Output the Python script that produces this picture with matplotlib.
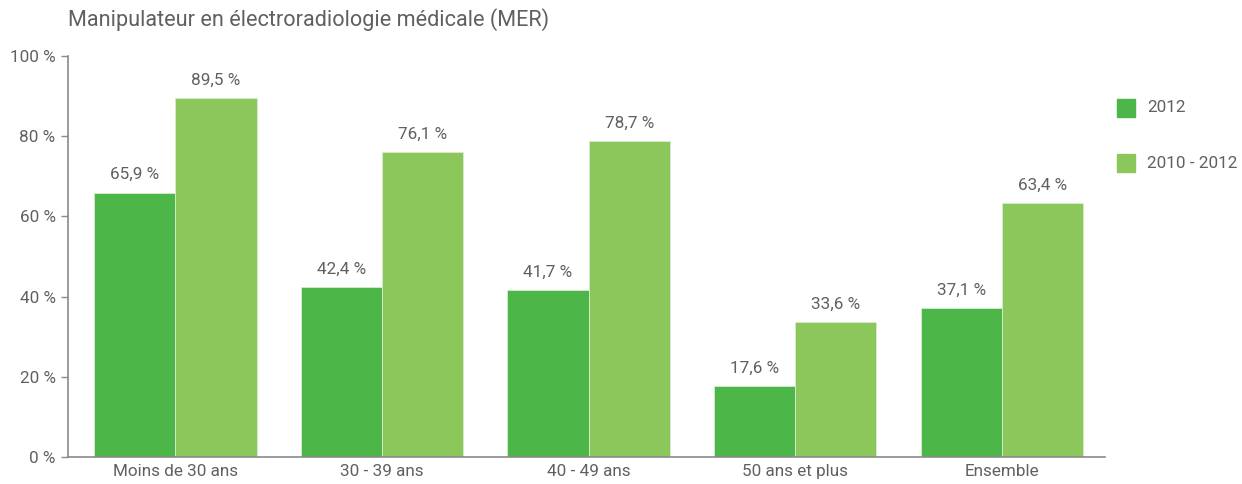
import numpy as np
from matplotlib import pyplot as plt
from matplotlib.patches import Rectangle

plt.rcParams['font.family'] = ['Roboto', 'DejaVu Sans']

categories = ['Moins de 30 ans', '30 - 39 ans', '40 - 49 ans', '50 ans et plus', 'Ensemble']
values_2012 = [65.9, 42.4, 41.7, 17.6, 37.1]
values_2010_2012 = [89.5, 76.1, 78.7, 33.6, 63.4]
series_names = ['2012', '2010 - 2012']
colors = ['#4cb748', '#8bc75b']
yticks = [0, 20, 40, 60, 80, 100]

text_color = '#606060'
axis_color = '#8a8a8a'
fs = 12.3


def fmt(v):
    return ('%.1f' % v).replace('.', ',') + ' %'


fig = plt.figure(figsize=(12.42, 4.84), dpi=100)
ax = fig.add_axes([0.0548, 0.0558, 0.8349, 0.8285])

x = np.arange(len(categories))
width = 0.393
series = [values_2012, values_2010_2012]
for k, vals in enumerate(series):
    pos = x + (k - 0.5) * width
    ax.bar(pos, vals, width=width, color=colors[k], edgecolor='#d8ecd0', linewidth=0.6)
    for p, v in zip(pos, vals):
        ax.text(p, v + 2.6, fmt(v), ha='center', va='bottom', fontsize=fs, color=text_color)

ax.set_xlim(-0.52, 4.5)
ax.set_ylim(0, 100)
ax.set_yticks(yticks)
ax.set_yticklabels(['%d %%' % t for t in yticks], fontsize=fs, color=text_color)
ax.set_xticks(x)
ax.set_xticklabels(categories, fontsize=fs, color=text_color)
ax.tick_params(axis='x', length=0, pad=5)
ax.tick_params(axis='y', length=5, width=1, color=axis_color, pad=4)

for side in ['top', 'right']:
    ax.spines[side].set_visible(False)
for side in ['left', 'bottom']:
    ax.spines[side].set_color(axis_color)
    ax.spines[side].set_linewidth(1.2)

fig.text(68 / 1242, 1 - 20 / 484, 'Manipulateur en électroradiologie médicale (MER)',
         ha='left', va='center', fontsize=15.6, color=text_color)

# legend
for k, name in enumerate(series_names):
    ycen = 108 + k * 55
    fig.patches.append(Rectangle((1117 / 1242, 1 - (ycen + 9) / 484), 18 / 1242, 18 / 484,
                                 transform=fig.transFigure, color=colors[k]))
    fig.text(1147 / 1242, 1 - ycen / 484, name, ha='left', va='center',
             fontsize=fs, color=text_color)

fig.savefig('out.png', dpi=100)
